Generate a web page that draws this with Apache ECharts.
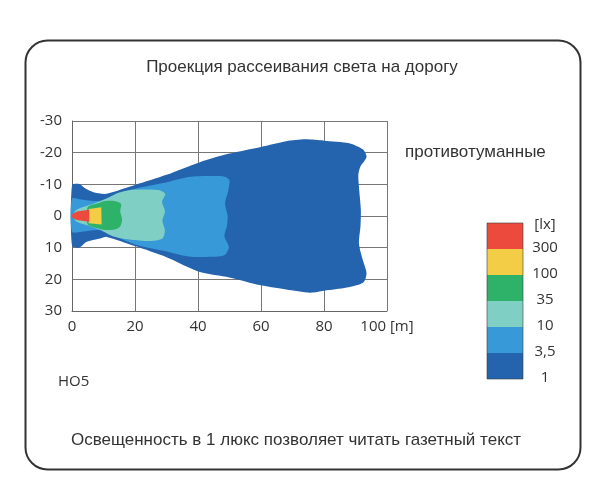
<!DOCTYPE html>
<html>
<head>
<meta charset="utf-8">
<script src="https://cdn.jsdelivr.net/npm/echarts@6/dist/echarts.min.js"></script>
<style>
  html, body { margin: 0; padding: 0; background: #fff; }
  #chart { width: 600px; height: 499px; }
</style>
</head>
<body>
<div id="chart"></div>
<script>
// illuminance levels, brightest first
const levelLabels = ['300', '100', '35', '10', '3,5', '1'];
const levelColors = ['#ec4a3c', '#f3cd45', '#2eb26a', '#80cfc4', '#3799d8', '#2463ad'];

// contour outlines [distance m, lateral m]
const contour1 = [
  [0, -9.7], [2.3, -10.1], [4.4, -8.6], [6.6, -7.6], [9, -7.1], [11, -7],
  [20, -9.8], [30, -13], [40.6, -17], [50, -19.7], [60, -21.8], [68, -23.6], [74, -24.2],
  [80, -23.8], [88, -23], [92.4, -21], [93.5, -18.6], [91.5, -15.5], [90.9, -13],
  [91.2, -8], [91.7, -2], [91.6, 3], [91.1, 8.7], [92.2, 13.5], [93.5, 18],
  [92.5, 21], [87.2, 22.6], [80, 23.6], [75.6, 24.2], [68, 23.2], [60, 21.9], [50, 19.4],
  [40.6, 17.7], [30, 13], [20, 9.5], [11, 6.6], [9, 7.1], [6.6, 7.6],
  [4.4, 8.3], [2.3, 10], [0, 9.3]
];
const contour3_5 = [
  [0, -5.5], [3, -5.2], [6, -4.8], [9, -4.8], [12, -6],
  [20, -8.6], [29, -10.4], [37, -12.3], [44, -12.6], [48.5, -12.4], [50, -11.3],
  [49.6, -8], [48.6, -4], [49.4, 0], [49.2, 3], [48.4, 6.4], [49.8, 9.8],
  [48.5, 12.3], [44, 12.9], [37, 12.8], [29, 11], [20, 9], [12, 5.6],
  [9, 4.5], [6, 4.6], [3, 5], [0, 5]
];
const contour10 = [
  [1, -1.6], [6, -3.6], [10.5, -5.3], [15, -7.4], [19, -8.3], [23, -8.4],
  [27.5, -8.2], [29.6, -7], [28.6, -4.5], [29.5, -1.5], [28.7, 1.5],
  [29.5, 4.5], [28.8, 7], [26, 7.8], [22, 7.8], [17, 7.3], [13, 6.4],
  [9, 4.4], [5, 3], [1, 1.4]
];
const contour35 = [
  [5, -2.8], [8.6, -4.1], [10.5, -4.7], [13.5, -4.7], [15.6, -3.8], [15.3, -1.4],
  [15.9, 1], [15.3, 3.3], [13.5, 4.3], [10.5, 4.4], [8.6, 4], [5, 2.7]
];
const contour100 = [
  [5.3, -2.2], [9.3, -2.8], [9.4, 2.7], [5.3, 2.3]
];
const contour300 = [
  [0, -0.5], [1.5, -1.4], [5.5, -2], [5.5, 1.8], [1.5, 1.3], [0, 0.5]
];
const contours = [contour300, contour100, contour35, contour10, contour3_5, contour1];

const xUnit = '[m]';
const legendTitle = '[lx]';

const chart = echarts.init(document.getElementById('chart'));

function contourSeries(points, color, smooth) {
  return {
    type: 'custom',
    coordinateSystem: 'cartesian2d',
    silent: true,
    data: points,
    encode: { x: 0, y: 1 },
    renderItem: function (params, api) {
      if (params.dataIndex !== 0) return;
      const pts = points.map(p => api.coord(p));
      return {
        type: 'polygon',
        shape: { points: pts, smooth: smooth },
        style: { fill: color }
      };
    }
  };
}

// draw biggest first so brighter zones sit on top
const series = [];
for (let i = contours.length - 1; i >= 0; i--) {
  series.push(contourSeries(contours[i], levelColors[i], i >= 2 ? 0.25 : 0));
}

const textFont = '17px "Liberation Sans", Arial, sans-serif';

// legend blocks
const legendX = 487, legendTop = 223, blockW = 36, blockH = 26;
const graphics = [
  {
    type: 'rect', left: 23, top: 38, z: -1,
    shape: { width: 555, height: 429, r: 22 },
    style: { fill: 'none', stroke: '#333', lineWidth: 2 }
  },
  {
    type: 'text', x: 302, y: 67,
    style: { text: 'Проекция рассеивания света на дорогу', font: textFont, fill: '#333', textAlign: 'center', textVerticalAlign: 'middle' }
  },
  {
    type: 'text', x: 405, y: 152,
    style: { text: 'противотуманные', font: textFont, fill: '#333', textAlign: 'left', textVerticalAlign: 'middle' }
  },
  {
    type: 'text', x: 58, y: 382,
    style: { text: 'HO5', font: '15px "Open Sans", sans-serif', fill: '#333', textAlign: 'left', textVerticalAlign: 'middle' }
  },
  {
    type: 'text', x: 296, y: 440,
    style: { text: 'Освещенность в 1 люкс позволяет читать газетный текст', font: textFont, fill: '#333', textAlign: 'center', textVerticalAlign: 'middle' }
  },
  {
    type: 'text', x: 545, y: legendTop + 2,
    style: { text: legendTitle, font: '15px "Open Sans", sans-serif', fill: '#333', textAlign: 'center', textVerticalAlign: 'middle' }
  }
];
levelColors.forEach((c, i) => {
  graphics.push({
    type: 'rect', x: legendX, y: legendTop + i * blockH,
    shape: { width: blockW, height: blockH },
    style: { fill: c }
  });
  graphics.push({
    type: 'text', x: 545, y: legendTop + (i + 1) * blockH - 1,
    style: { text: levelLabels[i], font: '15px "Open Sans", sans-serif', fill: '#333', textAlign: 'center', textVerticalAlign: 'middle' }
  });
});
graphics.push({
  type: 'rect', x: legendX, y: legendTop,
  shape: { width: blockW, height: blockH * levelColors.length },
  style: { fill: 'none', stroke: 'rgba(60,60,60,0.6)', lineWidth: 1 }
});

chart.setOption({
  animation: false,
  backgroundColor: '#fff',
  grid: { left: 72, right: 213, top: 121, bottom: 188 },
  xAxis: {
    type: 'value', min: 0, max: 100, interval: 20,
    axisLine: { onZero: false, lineStyle: { color: '#666', width: 1 } },
    axisTick: { show: false },
    splitLine: { show: true, lineStyle: { color: '#777', width: 1 } },
    axisLabel: {
      margin: 8, fontSize: 15, color: '#333', fontFamily: 'Open Sans',
      formatter: v => v === 100 ? v + ' ' + xUnit : String(v)
    }
  },
  yAxis: {
    type: 'value', min: -30, max: 30, interval: 10, inverse: true,
    axisLine: { show: true, onZero: false, lineStyle: { color: '#666', width: 1 } },
    axisTick: { show: false },
    splitLine: { show: true, lineStyle: { color: '#777', width: 1 } },
    axisLabel: { margin: 10, fontSize: 15, color: '#333', fontFamily: 'Open Sans' }
  },
  graphic: graphics,
  series: series
});
</script>
</body>
</html>
